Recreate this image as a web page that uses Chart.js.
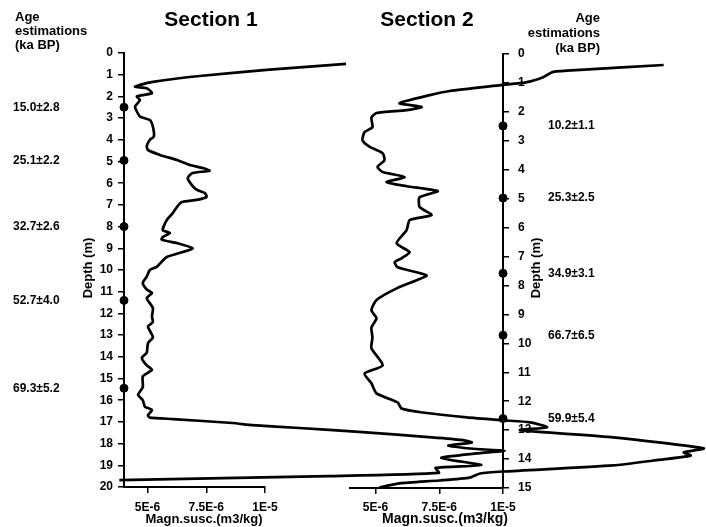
<!DOCTYPE html>
<html>
<head>
<meta charset="utf-8">
<script src="https://cdn.jsdelivr.net/npm/chart.js@4/dist/chart.umd.min.js"></script>
<style>
    html, body { margin: 0; padding: 0; background: #fff; }
    #wrap { position: relative; width: 706px; height: 527px; }
    #wrap canvas { position: absolute; left: 0; top: 0; }
</style>
</head>
<body>
<div id="wrap">
    <canvas id="sec1" width="706" height="527"></canvas>
    <canvas id="sec2" width="706" height="527"></canvas>
</div>
<script>
// magnetic susceptibility in units of 1E-6 m3/kg, depth in m

// Section 1
const s1Depth = [0.5, 0.78, 1.06, 1.33, 1.47, 1.56, 1.62, 1.85, 2.0, 2.17, 2.47, 2.7, 2.93, 3.09, 3.4, 3.85, 4.0, 4.3, 4.47, 4.7,
    4.93, 5.16, 5.3, 5.43, 5.53, 5.76, 6.08, 6.3, 6.45, 6.63, 6.77, 6.87, 7.1, 7.37, 7.7, 8.16, 8.3, 8.48, 8.6, 8.76,
    9.0, 9.17, 9.4, 9.7, 9.85, 10.0, 10.3, 10.6, 10.9, 11.06, 11.3, 11.75, 12.15, 12.4, 12.6, 13.1, 13.37, 13.8, 14.05, 14.4,
    14.6, 14.9, 15.4, 15.75, 16.0, 16.3, 16.45, 16.7, 16.8, 16.87, 17.05, 17.15, 17.28, 17.46, 17.7, 17.83, 17.95, 18.1, 18.25, 18.33,
    18.45, 18.66, 18.99, 19.12, 19.35, 19.5, 19.68];
const s1Susc = [13.45, 10.06, 7.22, 5.23, 4.68, 4.47, 4.97, 5.19, 4.55, 4.68, 4.47, 4.55, 4.68, 5.1, 5.23, 5.27, 5.1, 4.97, 5.02, 5.53,
    6.25, 6.8, 7.35, 7.64, 6.92, 6.71, 6.88, 7.09, 7.43, 7.52, 7.09, 6.46, 6.25, 6.08, 5.82, 5.65, 5.95, 5.65, 5.6, 6.25,
    6.92, 6.5, 5.82, 5.53, 5.4, 5.1, 4.97, 4.8, 4.97, 5.19, 4.97, 5.23, 5.19, 5.23, 5.02, 5.23, 5.02, 4.97, 4.76, 4.97,
    5.19, 4.8, 4.8, 4.6, 4.8, 4.89, 5.19, 5.02, 5.1, 6.08, 8.62, 9.47, 11.46, 14.0, 16.96, 18.36, 18.8, 17.8, 19.0, 20.2,
    19.0, 17.5, 19.2, 17.26, 17.4, 12.7, 3.8];
const s1AgeDepth = [2.5, 4.95, 8.0, 11.4, 15.45];
const s1Ages = ['15.0\u00b12.8', '25.1\u00b12.2', '32.7\u00b12.6', '52.7\u00b14.0', '69.3\u00b15.2'];

// Section 2
const s2Depth = [0.38, 0.55, 0.62, 0.8, 0.97, 1.07, 1.28, 1.42, 1.7, 1.83, 1.94, 2.04, 2.2, 2.53, 2.7, 2.98, 3.2, 3.43, 3.67, 3.9,
    4.08, 4.25, 4.43, 4.57, 4.74, 4.95, 5.29, 5.57, 5.74, 6.09, 6.54, 6.85, 7.06, 7.2, 7.37, 7.65, 7.82, 8.1, 8.5, 8.86,
    9.13, 9.45, 9.8, 10.17, 10.76, 11.04, 11.38, 11.73, 12.04, 12.25, 12.39, 12.56, 12.66, 12.73, 12.9, 13.0, 13.25, 13.63, 13.77, 13.88,
    14.05, 14.22, 14.43, 14.5, 14.64, 14.74, 14.84, 14.98];
const s2Susc = [16.3, 13.03, 11.97, 11.57, 10.94, 10.0, 7.91, 7.13, 5.94, 6.81, 6.22, 5.04, 4.84, 4.88, 4.57, 4.49, 4.76, 5.28, 5.35, 5.08,
    5.28, 6.14, 5.43, 6.22, 7.44, 6.73, 6.73, 7.2, 6.34, 6.22, 5.83, 6.34, 6.02, 5.75, 5.87, 7.0, 6.61, 5.83, 5.04, 4.84,
    5.04, 4.84, 4.88, 4.84, 5.28, 4.57, 4.84, 5.04, 5.87, 6.02, 6.85, 8.58, 10.0, 11.06, 11.73, 10.67, 14.33, 17.87, 17.09, 17.36,
    15.9, 14.33, 10.0, 9.1, 8.7, 7.5, 5.94, 5.16];
const s2AgeDepth = [2.49, 4.98, 7.58, 9.72, 12.6];
const s2Ages = ['10.2\u00b11.1', '25.3\u00b12.5', '34.9\u00b13.1', '66.7\u00b16.5', '59.9\u00b15.4'];

// axis ticks
const xTickValues = [5, 7.5, 10];
const xTickLabels = ['5E-6', '7.5E-6', '1E-5'];
const headerLines = ['Age', 'estimations', '(ka BP)'];

const FONT = '"Liberation Sans", Arial, Helvetica, sans-serif';
Chart.defaults.font.family = FONT;
Chart.defaults.font.weight = 'bold';
Chart.defaults.font.size = 12;
Chart.defaults.color = '#000';

function toPoints(depths, values) {
    return depths.map((d, i) => ({ x: values[i], y: d }));
}

// titles, age labels and axis titles
const sectionText = {
    id: 'sectionText',
    afterDraw(chart, args, o) {
        const ctx = chart.ctx;
        const ys = chart.scales.y;
        ctx.save();
        ctx.fillStyle = '#000';
        ctx.textBaseline = 'middle';

        ctx.font = `bold 21px ${FONT}`;
        ctx.textAlign = 'center';
        ctx.fillText(o.title, o.titleX, 20);

        ctx.font = `bold 13px ${FONT}`;
        ctx.textAlign = o.headAlign;
        headerLines.forEach((t, i) => ctx.fillText(t, o.headX, o.headY[i]));

        ctx.font = `bold 12px ${FONT}`;
        ctx.textAlign = 'left';
        o.ages.forEach((t, i) => ctx.fillText(t, o.ageX, ys.getPixelForValue(o.ageDepth[i])));

        ctx.font = `bold ${o.xTitleSize}px ${FONT}`;
        ctx.textAlign = 'center';
        ctx.fillText('Magn.susc.(m3/kg)', o.xTitleX, 519);

        ctx.translate(o.depthX, 268);
        ctx.rotate(-Math.PI / 2);
        ctx.font = `bold 13px ${FONT}`;
        ctx.fillText('Depth (m)', 0, 0);
        ctx.restore();
    }
};

function makeChart(canvasId, cfg) {
    const canvas = document.getElementById(canvasId);
    return new Chart(canvas.getContext('2d'), {
        type: 'line',
        data: {
            datasets: [
                {
                    data: toPoints(cfg.depth, cfg.susc),
                    borderColor: '#000',
                    borderWidth: 2.7,
                    pointRadius: 0,
                    tension: 0.2,
                    capBezierPoints: false,
                    fill: false,
                    clip: false
                },
                {
                    type: 'scatter',
                    data: cfg.ageDepth.map(d => ({ x: cfg.dotX, y: d })),
                    pointRadius: 4,
                    backgroundColor: '#000',
                    borderColor: '#000',
                    clip: false
                }
            ]
        },
        options: {
            responsive: false,
            animation: false,
            devicePixelRatio: 1,
            events: [],
            layout: { padding: cfg.padding },
            plugins: {
                legend: { display: false },
                tooltip: { enabled: false },
                sectionText: cfg.text
            },
            scales: {
                x: {
                    type: 'linear',
                    min: 4,
                    max: 10,
                    position: 'bottom',
                    afterBuildTicks: s => { s.ticks = xTickValues.map(v => ({ value: v })); },
                    afterFit: s => { s.height = cfg.xHeight; },
                    ticks: {
                        autoSkip: false,
                        maxRotation: 0,
                        padding: cfg.xPad,
                        font: { size: 12 },
                        callback: v => xTickLabels[xTickValues.indexOf(v)]
                    },
                    grid: { drawOnChartArea: false, tickLength: 6, color: '#000', lineWidth: 1.5 },
                    border: { display: true, color: '#000', width: 2 }
                },
                y: {
                    type: 'linear',
                    reverse: true,
                    min: 0,
                    max: cfg.depthMax,
                    position: cfg.yPos,
                    afterFit: s => { s.width = 40; },
                    ticks: { stepSize: 1, autoSkip: false, padding: cfg.yPad, font: { size: 12 } },
                    grid: { drawOnChartArea: false, tickLength: 6, color: '#000', lineWidth: 1.5 },
                    border: { display: true, color: '#000', width: 2 }
                }
            }
        },
        plugins: [sectionText]
    });
}

makeChart('sec1', {
    depth: s1Depth, susc: s1Susc, ageDepth: s1AgeDepth, dotX: 4,
    depthMax: 20, yPos: 'left', yPad: 5, xPad: 7, xHeight: 40,
    padding: { left: 84, right: 441, top: 53, bottom: 0 },
    text: {
        title: 'Section 1', titleX: 211,
        headX: 15, headAlign: 'left', headY: [17, 31, 45],
        ages: s1Ages, ageDepth: s1AgeDepth, ageX: 13,
        depthX: 88, xTitleX: 204, xTitleSize: 13
    }
});

makeChart('sec2', {
    depth: s2Depth, susc: s2Susc, ageDepth: s2AgeDepth, dotX: 10,
    depthMax: 15, yPos: 'right', yPad: 9, xPad: 6, xHeight: 39,
    padding: { left: 350, right: 163, top: 54, bottom: 0 },
    text: {
        title: 'Section 2', titleX: 427,
        headX: 600, headAlign: 'right', headY: [18, 33, 48],
        ages: s2Ages, ageDepth: s2AgeDepth, ageX: 548,
        depthX: 536, xTitleX: 445, xTitleSize: 14
    }
});
</script>
</body>
</html>
